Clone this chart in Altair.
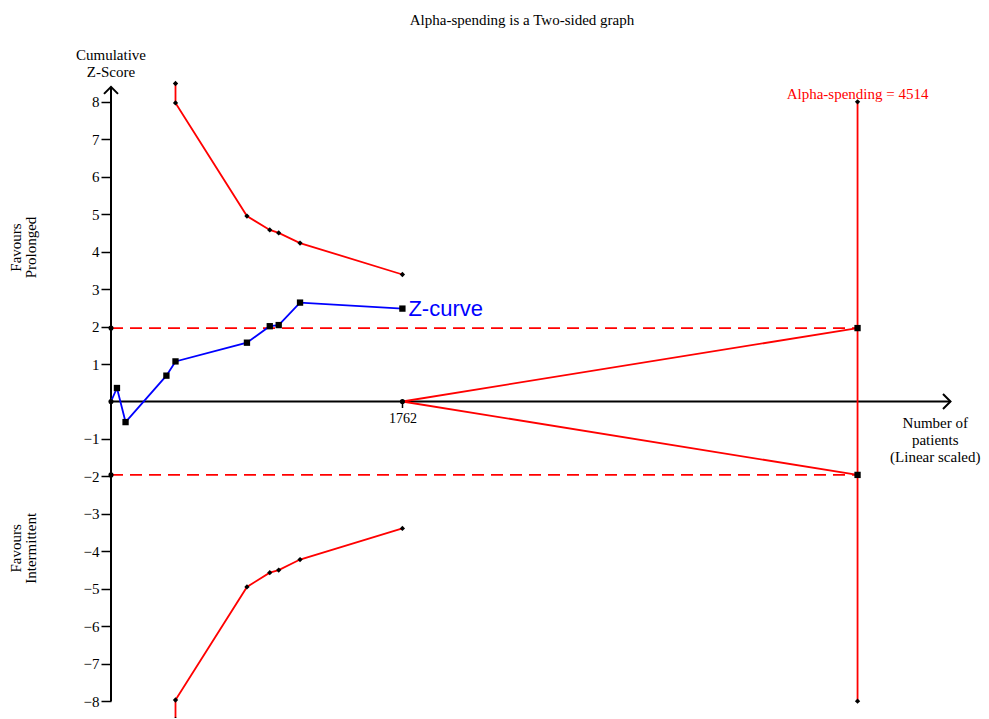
import altair as alt
import pandas as pd

# ---------------- data ----------------
# Cumulative Z-curve (patients, z)
z_n = [0, 36, 88, 335, 390, 822, 960, 1014, 1143, 1762]
z_val = [0.0, 0.36, -0.55, 0.69, 1.07, 1.57, 2.01, 2.04, 2.64, 2.48]

# Alpha-spending boundaries (patients, upper z, lower z)
b_n = [390, 390, 822, 960, 1014, 1143, 1762]
b_upper = [8.49, 7.97, 4.95, 4.58, 4.50, 4.23, 3.39]
b_lower = [-8.49, -7.97, -4.95, -4.57, -4.50, -4.22, -3.39]

conv_z = 1.96          # conventional boundaries
ris = 4514             # required information size (alpha-spending)
acc_n = 1762           # accrued patients
ris_z = 8.0            # extent of RIS vertical line
x_ticks = [1762]
y_ticks = [-8, -7, -6, -5, -4, -3, -2, -1, 1, 2, 3, 4, 5, 6, 7, 8]

X_DOMAIN = [0, 5200]
Y_DOMAIN = [-8.45, 8.85]
X_ARROW = 5076
Y_ARROW = 8.4

RED = "#ff0000"
BLUE = "#0000ff"
SERIF = "Liberation Serif"
LW = 1.8

W, H = 860, 648

X_AXIS = alt.Axis(values=x_ticks, domain=False, grid=False, title=None,
                  tickSize=6, tickWidth=1.5, tickColor="black",
                  labelFont=SERIF, labelFontSize=14, labelColor="black",
                  labelPadding=4, format="d",
                  offset=-(H - Y_DOMAIN[1] / (Y_DOMAIN[1] - Y_DOMAIN[0]) * H))
Y_AXIS = alt.Axis(values=y_ticks, domain=False, grid=False, title=None,
                  tickSize=10, tickWidth=1.5, tickColor="black",
                  labelFont=SERIF, labelFontSize=15, labelColor="black",
                  labelPadding=2, format="d")


def X(field):
    return alt.X(field, type="quantitative", axis=X_AXIS,
                 scale=alt.Scale(domain=X_DOMAIN, nice=False, zero=False))


def Y(field):
    return alt.Y(field, type="quantitative", axis=Y_AXIS,
                 scale=alt.Scale(domain=Y_DOMAIN, nice=False, zero=False))


# ---------------- tables ----------------
zdf = pd.DataFrame({"n": z_n, "z": z_val})
zsq = zdf.iloc[1:]
bdf = pd.concat([
    pd.DataFrame({"n": b_n, "z": b_upper, "side": "upper", "o": range(len(b_n))}),
    pd.DataFrame({"n": b_n, "z": b_lower, "side": "lower", "o": range(len(b_n))}),
])
dash_df = pd.DataFrame({"n": [0, ris, 0, ris], "z": [conv_z, conv_z, -conv_z, -conv_z],
                        "g": ["u", "u", "l", "l"]})
tri_df = pd.DataFrame({"n": [acc_n, ris, acc_n, ris], "z": [0, conv_z, 0, -conv_z],
                       "g": ["u", "u", "l", "l"]})
ris_df = pd.DataFrame({"n": [ris], "z1": [-ris_z], "z2": [ris_z]})
ris_ends = pd.DataFrame({"n": [ris, ris], "z": [ris_z, -ris_z]})
ris_sq = pd.DataFrame({"n": [ris, ris], "z": [conv_z, -conv_z]})
dots = pd.DataFrame({"n": [0, 0, 0, acc_n], "z": [0, conv_z, -conv_z, 0]})
yaxis_df = pd.DataFrame({"n": [0], "z1": [-8], "z2": [Y_ARROW]})
xaxis_df = pd.DataFrame({"n1": [0], "n2": [X_ARROW], "z": [0]})
up_arrow = pd.DataFrame({"n": [0], "z": [Y_ARROW]})
right_arrow = pd.DataFrame({"n": [X_ARROW], "z": [0]})

# annotation anchors (data units)
lab_alpha = pd.DataFrame({"n": [ris], "z": [8.22], "t": [f"Alpha-spending = {ris}"]})
lab_zc = pd.DataFrame({"n": [acc_n], "z": [z_val[-1]], "t": ["Z-curve"]})
lab_cum = pd.DataFrame({"n": [0, 0], "z": [9.25, 8.8], "t": ["Cumulative", "Z-Score"]})
lab_np = pd.DataFrame({"n": [4984, 4984, 4984], "z": [-0.58, -1.03, -1.48],
                       "t": ["Number of", "patients", "(Linear scaled)"]})
lab_fp = pd.DataFrame({"n": [-573, -482], "z": [4.11, 4.11], "t": ["Favours", "Prolonged"]})
lab_fi = pd.DataFrame({"n": [-573, -482], "z": [-3.92, -3.92], "t": ["Favours", "Intermittent"]})

# ---------------- layers ----------------
axes_y = alt.Chart(yaxis_df).mark_rule(color="black", strokeWidth=2).encode(
    x=X("n"), y=Y("z1"), y2="z2")
axes_x = alt.Chart(xaxis_df).mark_rule(color="black", strokeWidth=2).encode(
    x=X("n1"), x2="n2", y=Y("z"))
arrow_up = alt.Chart(up_arrow).mark_point(
    shape="M-1,1L0,0L1,1", filled=False, color="black", strokeWidth=2, size=196, opacity=1
).encode(x=X("n"), y=Y("z"))
arrow_right = alt.Chart(right_arrow).mark_point(
    shape="M-1,-1L0,0L-1,1", filled=False, color="black", strokeWidth=2, size=225, opacity=1
).encode(x=X("n"), y=Y("z"))

dashed = alt.Chart(dash_df).mark_line(color=RED, strokeWidth=LW, strokeDash=[12, 7]).encode(
    x=X("n"), y=Y("z"), detail="g:N")
triangle = alt.Chart(tri_df).mark_line(color=RED, strokeWidth=LW).encode(
    x=X("n"), y=Y("z"), detail="g:N")
ris_line = alt.Chart(ris_df).mark_rule(color=RED, strokeWidth=LW).encode(
    x=X("n"), y=Y("z1"), y2="z2")
bound_lines = alt.Chart(bdf).mark_line(color=RED, strokeWidth=LW).encode(
    x=X("n"), y=Y("z"), detail="side:N", order="o:Q")
bound_pts = alt.Chart(bdf).mark_point(shape="diamond", filled=True, color="black",
                                      size=28, opacity=1).encode(x=X("n"), y=Y("z"))
ris_end_pts = alt.Chart(ris_ends).mark_point(shape="diamond", filled=True, color="black",
                                             size=28, opacity=1).encode(x=X("n"), y=Y("z"))

zline = alt.Chart(zdf).mark_line(color=BLUE, strokeWidth=LW).encode(x=X("n"), y=Y("z"))
zpts = alt.Chart(zsq).mark_point(shape="square", filled=True, color="black",
                                 size=40, opacity=1).encode(x=X("n"), y=Y("z"))
ris_sq_pts = alt.Chart(ris_sq).mark_point(shape="square", filled=True, color="black",
                                          size=40, opacity=1).encode(x=X("n"), y=Y("z"))
dot_pts = alt.Chart(dots).mark_point(shape="circle", filled=True, color="black",
                                     size=26, opacity=1).encode(x=X("n"), y=Y("z"))

t_alpha = alt.Chart(lab_alpha).mark_text(font=SERIF, fontSize=15, color=RED,
                                         align="center", baseline="middle").encode(
    x=X("n"), y=Y("z"), text="t:N")
t_zc = alt.Chart(lab_zc).mark_text(font="Liberation Sans", fontSize=22, color=BLUE,
                                   align="left", baseline="middle", dx=6).encode(
    x=X("n"), y=Y("z"), text="t:N")
t_cum = alt.Chart(lab_cum).mark_text(font=SERIF, fontSize=15, color="black",
                                     align="center", baseline="middle").encode(
    x=X("n"), y=Y("z"), text="t:N")
t_np = alt.Chart(lab_np).mark_text(font=SERIF, fontSize=15, color="black",
                                   align="center", baseline="middle").encode(
    x=X("n"), y=Y("z"), text="t:N")
t_fp = alt.Chart(lab_fp).mark_text(font=SERIF, fontSize=15, color="black", angle=270,
                                   align="center", baseline="middle").encode(
    x=X("n"), y=Y("z"), text="t:N")
t_fi = alt.Chart(lab_fi).mark_text(font=SERIF, fontSize=15, color="black", angle=270,
                                   align="center", baseline="middle").encode(
    x=X("n"), y=Y("z"), text="t:N")

chart = alt.layer(
    axes_y, axes_x, arrow_up, arrow_right,
    dashed, triangle, ris_line, bound_lines, zline,
    bound_pts, ris_end_pts, zpts, ris_sq_pts, dot_pts,
    t_alpha, t_zc, t_cum, t_np, t_fp, t_fi,
).properties(
    width=W, height=H,
    autosize=alt.AutoSizeParams(type="none"),
    padding={"left": 103, "top": 62, "right": 10, "bottom": 0},
    title=alt.TitleParams(text="Alpha-spending is a Two-sided graph", font=SERIF,
                          fontSize=15, fontWeight="normal", color="black",
                          anchor="middle", dx=-19, offset=8, baseline="alphabetic"),
).configure(background="white", view=alt.ViewConfig(stroke=None))

chart.save("out.html", embed_options={"renderer": "svg", "actions": False})
